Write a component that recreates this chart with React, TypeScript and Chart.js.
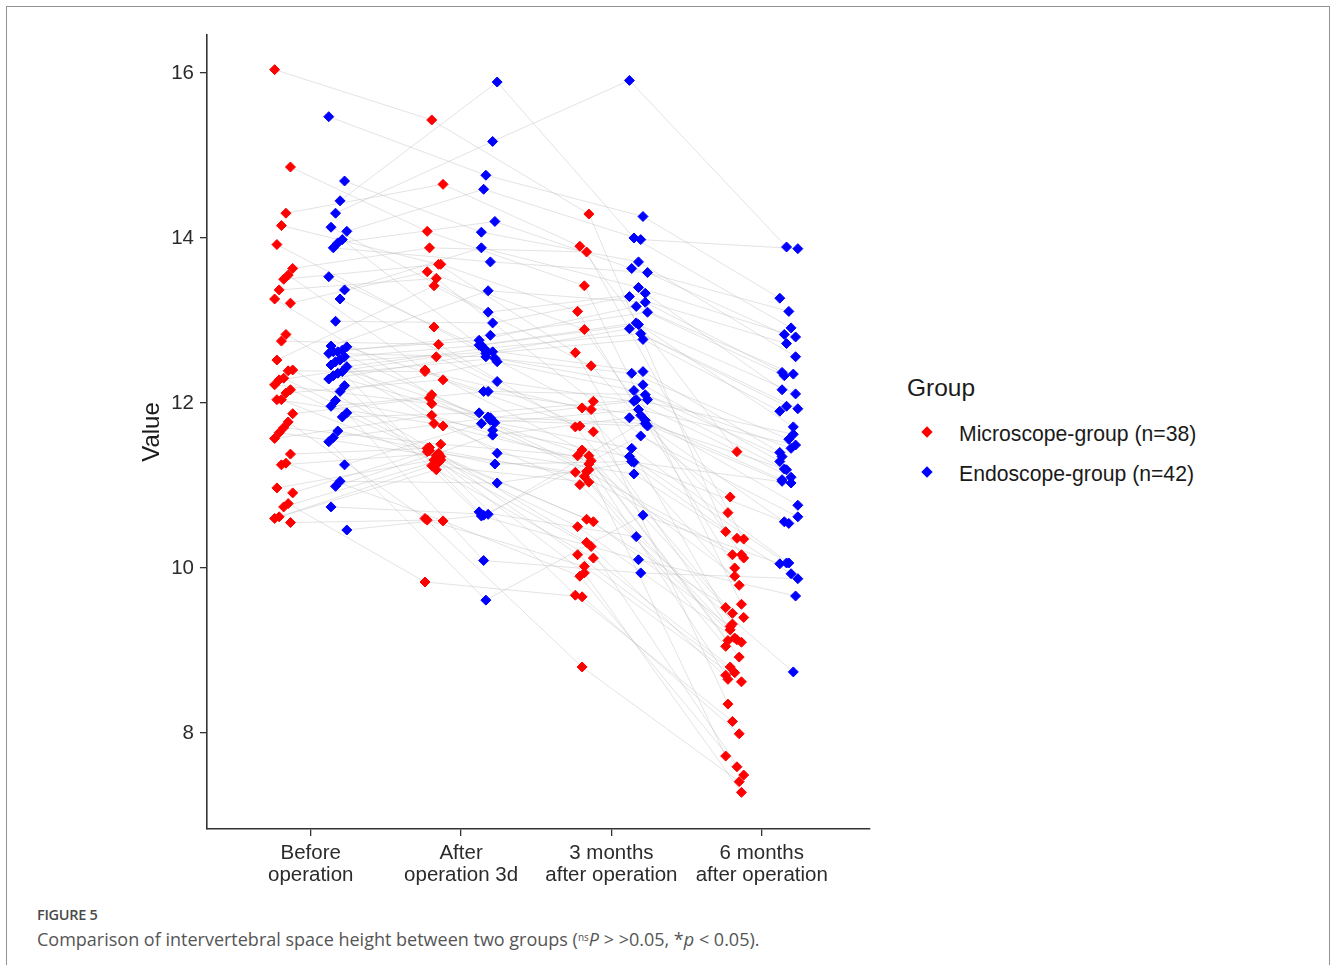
import React, { useEffect, useRef } from "react";
import { Chart, registerables } from "chart.js";
Chart.register(...registerables);

// ---- data ----
const timeLabels: string[][] = [
  ["Before", "operation"],
  ["After", "operation 3d"],
  ["3 months", "after operation"],
  ["6 months", "after operation"],
];
const yTickValues = [8, 10, 12, 14, 16];
const groupNames = ["Microscope-group (n=38)", "Endoscope-group (n=42)"];
const groupColors = ["#ff0000", "#0000ff"];

// Microscope group (n=38), one entry per patient, same order in each array
const microBefore = [16.04, 14.86, 14.30, 14.15, 13.92, 13.63, 13.55, 13.50, 13.37, 13.26, 13.21, 12.83, 12.75, 12.52, 12.40, 12.39, 12.30, 12.28, 12.22, 12.16, 12.12, 12.04, 12.04, 11.87, 11.77, 11.70, 11.64, 11.57, 11.38, 11.27, 11.25, 10.97, 10.91, 10.78, 10.74, 10.62, 10.60, 10.55];
const microAfter3d = [15.43, 14.08, 14.65, 13.68, 12.92, 13.88, 12.40, 13.68, 13.51, 12.10, 13.59, 11.72, 12.71, 13.42, 11.46, 12.38, 11.35, 12.56, 11.99, 11.41, 12.28, 11.28, 11.75, 12.06, 10.60, 11.50, 11.36, 11.85, 11.45, 10.57, 11.39, 11.31, 11.42, 9.83, 11.31, 11.19, 11.24, 10.58];
const micro3m = [14.29, 13.42, 13.90, 12.61, 11.92, 13.83, 11.43, 13.11, 12.02, 11.19, 12.89, 11.01, 11.71, 12.45, 10.31, 11.94, 10.16, 11.65, 11.36, 9.94, 11.72, 9.67, 11.30, 11.17, 8.80, 11.36, 10.56, 11.26, 11.11, 9.90, 11.16, 10.26, 10.59, 9.65, 10.50, 10.12, 11.04, 10.02];
const micro6m = [10.44, 9.56, 11.41, 9.32, 8.35, 10.35, 8.92, 10.00, 10.86, 7.72, 10.16, 9.13, 9.45, 10.67, 7.49, 9.79, 8.73, 9.25, 9.52, 7.28, 10.36, 8.14, 9.12, 10.12, 7.41, 9.90, 9.29, 8.70, 9.10, 7.59, 10.16, 8.65, 9.40, 7.99, 9.15, 8.80, 9.05, 8.62];

// Endoscope group (n=42)
const endoBefore = [15.47, 14.69, 14.45, 14.30, 14.13, 14.08, 13.98, 13.94, 13.88, 13.53, 13.37, 13.26, 12.99, 12.69, 12.68, 12.64, 12.62, 12.62, 12.60, 12.56, 12.52, 12.50, 12.46, 12.44, 12.38, 12.36, 12.33, 12.29, 12.21, 12.14, 12.03, 11.96, 11.88, 11.83, 11.66, 11.58, 11.53, 11.25, 11.05, 10.99, 10.74, 10.46];
const endoAfter3d = [14.76, 14.07, 15.89, 15.17, 13.10, 14.59, 12.70, 14.20, 13.71, 12.64, 13.88, 12.26, 12.97, 13.36, 12.14, 12.76, 11.76, 12.82, 12.56, 12.70, 11.39, 12.62, 11.83, 12.66, 10.68, 12.54, 11.79, 12.60, 10.63, 12.50, 11.67, 12.14, 10.09, 11.88, 11.26, 11.82, 9.61, 11.75, 11.03, 11.61, 10.65, 10.64];
const endo3m = [14.26, 13.71, 14.00, 15.91, 13.33, 13.98, 12.97, 13.63, 13.58, 12.38, 13.40, 12.02, 13.29, 13.22, 11.85, 13.17, 11.45, 13.10, 12.22, 12.95, 11.14, 12.90, 11.75, 12.84, 10.38, 12.36, 11.72, 12.77, 10.10, 12.15, 11.35, 12.10, 9.94, 12.04, 11.29, 12.04, 10.64, 11.92, 11.28, 11.82, 11.79, 11.60];
const endo6m = [13.27, 12.56, 12.91, 13.89, 12.16, 13.87, 11.71, 13.11, 12.83, 11.40, 12.80, 11.10, 12.72, 12.37, 10.76, 12.35, 10.06, 12.33, 11.29, 12.11, 9.93, 11.96, 11.05, 11.93, 8.74, 11.56, 10.56, 11.90, 9.66, 11.45, 10.06, 11.35, 9.87, 11.62, 10.54, 11.20, 10.05, 11.49, 11.03, 11.19, 11.07, 10.62];

const FONT = "'Liberation Sans', Arial, Helvetica, sans-serif";

// deterministic horizontal jitter within each dodged group (layout only)
function jitter(i: number, t: number): number {
  return ((((i * 7 + t * 3) % 9) - 4) / 4) * 0.06;
}

export default function App() {
  const canvasRef = useRef<HTMLCanvasElement | null>(null);

  useEffect(() => {
    const canvas = canvasRef.current;
    if (!canvas) return;
    const groups = [
      { series: [microBefore, microAfter3d, micro3m, micro6m], dodge: -0.18, color: groupColors[0], name: groupNames[0] },
      { series: [endoBefore, endoAfter3d, endo3m, endo6m], dodge: 0.18, color: groupColors[1], name: groupNames[1] },
    ];
    const pointSets: any[] = [];
    const lineSets: any[] = [];
    groups.forEach((g) => {
      const pts: { x: number; y: number }[] = [];
      const n = g.series[0].length;
      for (let i = 0; i < n; i++) {
        const subj: { x: number; y: number }[] = [];
        g.series.forEach((vals, t) => {
          const p = { x: t + 1 + g.dodge + jitter(i, t), y: vals[i] };
          subj.push(p);
          pts.push(p);
        });
        lineSets.push({
          type: "line",
          data: subj,
          borderColor: "rgba(185,185,185,0.4)",
          borderWidth: 1,
          pointRadius: 0,
          fill: false,
          order: 2,
        });
      }
      pointSets.push({
        type: "scatter",
        label: g.name,
        data: pts,
        backgroundColor: g.color,
        borderColor: g.color,
        borderWidth: 1,
        pointStyle: "rectRot",
        pointRadius: 5,
        order: 1,
      });
    });

    const chart = new Chart(canvas, {
      type: "scatter",
      data: { datasets: [...pointSets, ...lineSets] },
      options: {
        responsive: false,
        animation: false,
        events: [],
        layout: { padding: { left: 0, top: 35, right: 10, bottom: 0 } },
        plugins: { legend: { display: false }, tooltip: { enabled: false } },
        scales: {
          x: {
            type: "linear",
            min: 0.31,
            max: 4.72,
            afterBuildTicks: (s: any) => {
              s.ticks = [1, 2, 3, 4].map((v) => ({ value: v }));
            },
            afterFit: (s: any) => {
              s.height = 71;
            },
            ticks: {
              autoSkip: false,
              maxRotation: 0,
              padding: 6,
              color: "#2b2b2b",
              font: { family: FONT, size: 20.5, lineHeight: 1.07 },
              callback: (v: any) => timeLabels[Math.round(Number(v)) - 1] ?? "",
            },
            grid: { display: true, drawOnChartArea: false, drawTicks: true, tickLength: 7, color: "#333", lineWidth: 1.3 },
            border: { display: true, color: "#333", width: 1.6 },
          },
          y: {
            type: "linear",
            min: 6.836,
            max: 16.46,
            afterBuildTicks: (s: any) => {
              s.ticks = yTickValues.map((v) => ({ value: v }));
            },
            afterFit: (s: any) => {
              s.width = 207;
            },
            ticks: {
              padding: 6,
              color: "#2b2b2b",
              font: { family: FONT, size: 20.5 },
            },
            title: {
              display: true,
              text: "Value",
              color: "#1a1a1a",
              font: { family: FONT, size: 24, lineHeight: 1.1 },
              padding: { top: 139, bottom: 0 },
            },
            grid: { display: true, drawOnChartArea: false, drawTicks: true, tickLength: 7, color: "#333", lineWidth: 1.3 },
            border: { display: true, color: "#333", width: 1.6 },
          },
        },
      },
    } as any);
    return () => chart.destroy();
  }, []);

  const diamond = (color: string) => (
    <span
      style={{
        position: "absolute",
        left: -4,
        top: -4,
        width: 8,
        height: 8,
        background: color,
        transform: "rotate(45deg)",
      }}
    />
  );

  return (
    <div style={{ position: "absolute", left: 0, top: 0, width: 1330, height: 965, overflow: "hidden", background: "#fff" }}>
      <div
        style={{
          position: "absolute",
          left: 6,
          top: 6,
          width: 1324,
          height: 1000,
          border: "1px solid #8e9398",
          boxSizing: "border-box",
        }}
      />
      <canvas ref={canvasRef} width={880} height={900} style={{ position: "absolute", left: 0, top: 0, width: 880, height: 900 }} />
      <div style={{ position: "absolute", left: 907, top: 374, fontFamily: FONT, fontSize: 24.5, color: "#1a1a1a", lineHeight: "28px" }}>
        Group
      </div>
      {groupNames.map((name, k) => (
        <div key={name}>
          <div style={{ position: "absolute", left: 927, top: 432 + k * 40, width: 0, height: 0 }}>{diamond(groupColors[k])}</div>
          <div
            style={{
              position: "absolute",
              left: 959,
              top: 421 + k * 40,
              fontFamily: FONT,
              fontSize: 21.2,
              color: "#1a1a1a",
              lineHeight: "26px",
              whiteSpace: "nowrap",
            }}
          >
            {name}
          </div>
        </div>
      ))}
      <div
        style={{
          position: "absolute",
          left: 37,
          top: 905,
          fontFamily: "'Open Sans', 'Noto Sans', sans-serif",
          fontSize: 14.5,
          fontWeight: 600,
          color: "#4a4a4a",
          lineHeight: "20px",
          letterSpacing: "-0.3px",
        }}
      >
        FIGURE 5
      </div>
      <div
        style={{
          position: "absolute",
          left: 37,
          top: 927,
          fontFamily: "'Open Sans', 'Noto Sans', sans-serif",
          fontSize: 18,
          color: "#555",
          lineHeight: "24px",
          whiteSpace: "nowrap",
        }}
      >
        Comparison of intervertebral space height between two groups (
        <sup style={{ fontSize: 10, verticalAlign: "5px", lineHeight: 0 }}>ns</sup>
        <i>P</i> &gt; &gt;0.05, *<i>p</i> &lt; 0.05).
      </div>
    </div>
  );
}
